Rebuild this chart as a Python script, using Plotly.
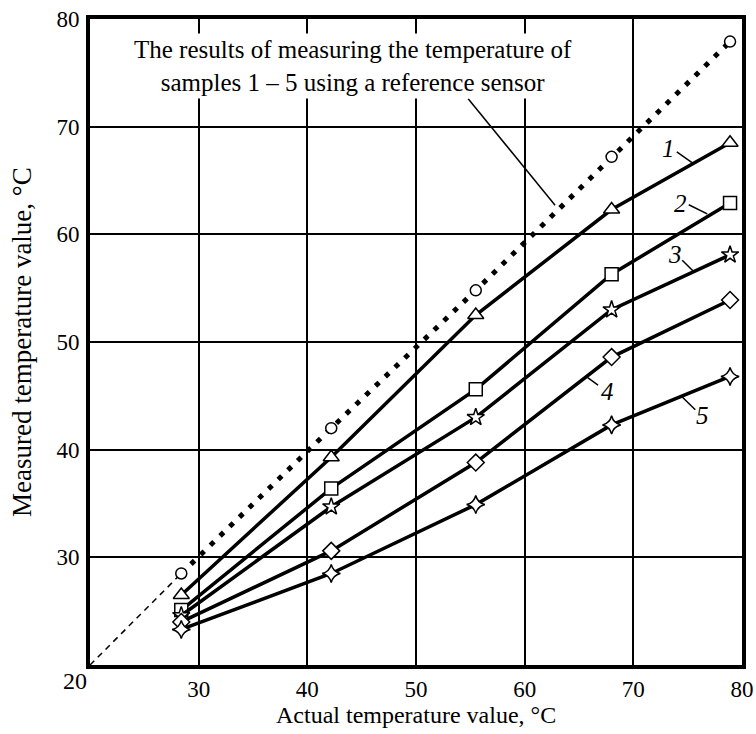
import plotly.graph_objects as go

# Data
actual_temp = [28.4, 42.2, 55.5, 68.0, 78.9]
reference = [28.5, 42.0, 54.8, 67.2, 77.9]
sample1 = [26.5, 39.3, 52.5, 62.3, 68.5]
sample2 = [25.1, 36.4, 45.6, 56.3, 62.9]
sample3 = [24.6, 34.7, 43.0, 53.0, 58.1]
sample4 = [24.0, 30.6, 38.8, 48.6, 53.9]
sample5 = [23.3, 28.5, 34.9, 42.3, 46.8]
origin = [20, 20]
tick_vals = [30, 40, 50, 60, 70, 80]
sample_names = ["1", "2", "3", "4", "5"]

FONT = "Liberation Serif"
fig = go.Figure()

# thin dashed extrapolation from the origin to the first reference point
fig.add_trace(go.Scatter(x=[origin[0], actual_temp[0]], y=[origin[1], reference[0]],
                         mode="lines", line=dict(color="black", width=1.5, dash="6px,5px"),
                         showlegend=False, hoverinfo="skip"))
# reference sensor: thick dotted line
fig.add_trace(go.Scatter(x=actual_temp, y=reference, mode="lines",
                         line=dict(color="black", width=5, dash="5px,8.5px"),
                         showlegend=False))

samples = [sample1, sample2, sample3, sample4, sample5]
symbols = ["triangle-up", "square", "star", "diamond", "star-diamond"]
sizes = [14, 13, 13, 13, 13]
for s, sym, sz, nm in zip(samples, symbols, sizes, sample_names):
    fig.add_trace(go.Scatter(x=actual_temp, y=s, mode="lines+markers", name=nm,
                             line=dict(color="black", width=3.5),
                             marker=dict(symbol=sym, size=sz, color="white",
                                         line=dict(color="black", width=1.5)),
                             showlegend=False))

# reference circles on top
fig.add_trace(go.Scatter(x=actual_temp, y=reference, mode="markers",
                         marker=dict(symbol="circle", size=11, color="white",
                                     line=dict(color="black", width=1.5)),
                         showlegend=False))

# leader lines (label -> curve)
leaders = [
    ((74.0, 67.65), (75.5, 66.6)),
    ((75.1, 62.75), (76.8, 61.9)),
    ((74.5, 57.6), (75.5, 56.6)),
    ((65.8, 46.7), (66.75, 46.0)),
    ((74.5, 44.9), (75.7, 43.7)),
    ((54.8, 72.6), (62.8, 62.7)),
]
for (x0, y0), (x1, y1) in leaders:
    fig.add_shape(type="line", x0=x0, y0=y0, x1=x1, y1=y1, xref="x", yref="y",
                  line=dict(color="black", width=1.5))

label_pos = [(73.2, 68.0), (74.3, 62.9), (73.8, 58.1), (67.6, 45.4), (76.4, 43.2)]
annotations = []
for nm, (lx, ly) in zip(sample_names, label_pos):
    annotations.append(dict(x=lx, y=ly, xref="x", yref="y", text="<i>" + nm + "</i>",
                            showarrow=False, font=dict(family=FONT, size=25, color="black")))

annotations.append(dict(x=44.2, y=75.6, xref="x", yref="y",
                        text="The results of measuring the temperature of<br>samples 1 \u2013 5 using a reference sensor",
                        showarrow=False, bgcolor="white", borderpad=2,
                        font=dict(family=FONT, size=25, color="black")))
annotations.append(dict(x=20, y=20, xref="x", yref="y", text="20", showarrow=False,
                        xanchor="right", yanchor="top", xshift=-1, yshift=-1,
                        font=dict(family=FONT, size=24, color="black")))
# axis titles
annotations.append(dict(x=0.5, y=0, xref="paper", yref="paper", text="Actual temperature value, \u00b0C",
                        showarrow=False, xanchor="center", yanchor="middle", yshift=-50,
                        font=dict(family=FONT, size=24, color="black")))
annotations.append(dict(x=0, y=0.5, xref="paper", yref="paper", text="Measured temperature value, \u00b0C",
                        showarrow=False, xanchor="center", yanchor="middle", xshift=-68,
                        textangle=-90, font=dict(family=FONT, size=27, color="black")))

fig.update_layout(
    width=756, height=734,
    margin=dict(l=90, r=14, t=19, b=69, autoexpand=False),
    plot_bgcolor="white", paper_bgcolor="white",
    font=dict(family=FONT, color="black", size=24),
    annotations=annotations,
)
axis_common = dict(range=[20, 80], tickvals=tick_vals, showgrid=True, gridcolor="black",
                   gridwidth=2, showline=True, linecolor="black", linewidth=4, mirror=True,
                   zeroline=False, ticks="", automargin=False, ticklabeloverflow="allow",
                   tickfont=dict(family=FONT, size=23, color="black"))
fig.update_xaxes(**axis_common, ticklabelstandoff=0)
fig.update_yaxes(**axis_common, ticklabelstandoff=2)

# remove the browser's default 8px page margin so the figure fills the window
fig.write_html("out.html", config={"displayModeBar": False},
               post_script="document.body.style.margin='0px';document.body.style.overflow='hidden';")
